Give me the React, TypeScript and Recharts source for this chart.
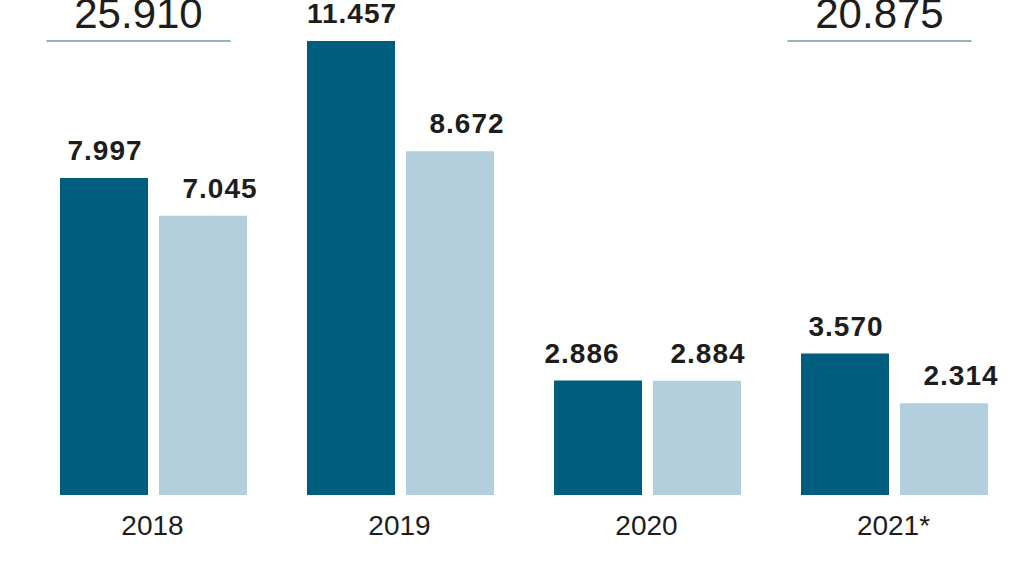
import { Bar, BarChart, LabelList, XAxis, YAxis } from 'recharts'

const years = ['2018', '2019', '2020', '2021*']
const darkValues = [7997, 11457, 2886, 3570]
const lightValues = [7045, 8672, 2884, 2314]
const totals: (number | null)[] = [25910, null, null, 20875]

const DARK = '#015d7d'
const LIGHT = '#b3cedd'
const TEXT = '#1d1d1b'
const FONT = '"Liberation Sans", Arial, Helvetica, sans-serif'

const data = years.map((year, i) => ({
  year,
  dark: darkValues[i],
  light: lightValues[i],
  total: totals[i],
}))

function fmt(v: number): string {
  return v.toLocaleString('de-DE')
}

// labels of a pair sit apart when both bars are nearly the same height
function isTight(i: number) {
  return Math.abs(darkValues[i] - lightValues[i]) < 300
}

function makeValueLabel(series: 'dark' | 'light') {
  return function ValueLabel(props: any) {
    const { x, y, width, value, index } = props
    let dx = series === 'light' ? 17 : 1
    if (isTight(index)) dx = series === 'light' ? 11 : -16
    return (
      <text
        x={x + width / 2 + dx}
        y={y - 18}
        textAnchor="middle"
        fontFamily={FONT}
        fontWeight={700}
        fontSize={28}
        letterSpacing={1}
        fill={TEXT}
      >
        {fmt(value)}
      </text>
    )
  }
}

const DarkLabel = makeValueLabel('dark')
const LightLabel = makeValueLabel('light')

// total sits above the whole group, drawn from the dark bar's position
function TotalLabel(props: any) {
  const { x, width, index } = props
  const total = totals[index]
  if (total == null) return null
  const groupCenter = x + width + 5.5
  const cx = groupCenter - 15
  return (
    <g>
      <text x={cx} y={28} textAnchor="middle" fontFamily={FONT} fontSize={42} fill={TEXT}>
        {fmt(total)}
      </text>
      <line x1={cx - 92} x2={cx + 92} y1={41} y2={41} stroke="#6a9ea3" strokeWidth={1.5} />
    </g>
  )
}

function YearTick(props: any) {
  const { x, y, payload } = props
  return (
    <text x={x - 1} y={y + 40} textAnchor="middle" fontFamily={FONT} fontSize={28} fill={TEXT}>
      {payload.value}
    </text>
  )
}

export default function App() {
  return (
    <div style={{ position: 'absolute', left: 0, top: 0, width: 1016, height: 572, overflow: 'hidden', background: '#fff' }}>
      <BarChart
        width={1018}
        height={572}
        data={data}
        margin={{ top: 0, right: 0, left: 30, bottom: 0 }}
        barCategoryGap={30}
        barGap={11}
      >
        <XAxis dataKey="year" axisLine={false} tickLine={false} tickSize={0} tickMargin={0} height={77} tick={<YearTick />} interval={0} />
        <YAxis hide domain={[0, 12490]} />
        <Bar dataKey="dark" fill={DARK} barSize={88} isAnimationActive={false}>
          <LabelList dataKey="dark" content={<DarkLabel />} />
          <LabelList dataKey="total" content={<TotalLabel />} />
        </Bar>
        <Bar dataKey="light" fill={LIGHT} barSize={88} isAnimationActive={false}>
          <LabelList dataKey="light" content={<LightLabel />} />
        </Bar>
      </BarChart>
    </div>
  )
}
